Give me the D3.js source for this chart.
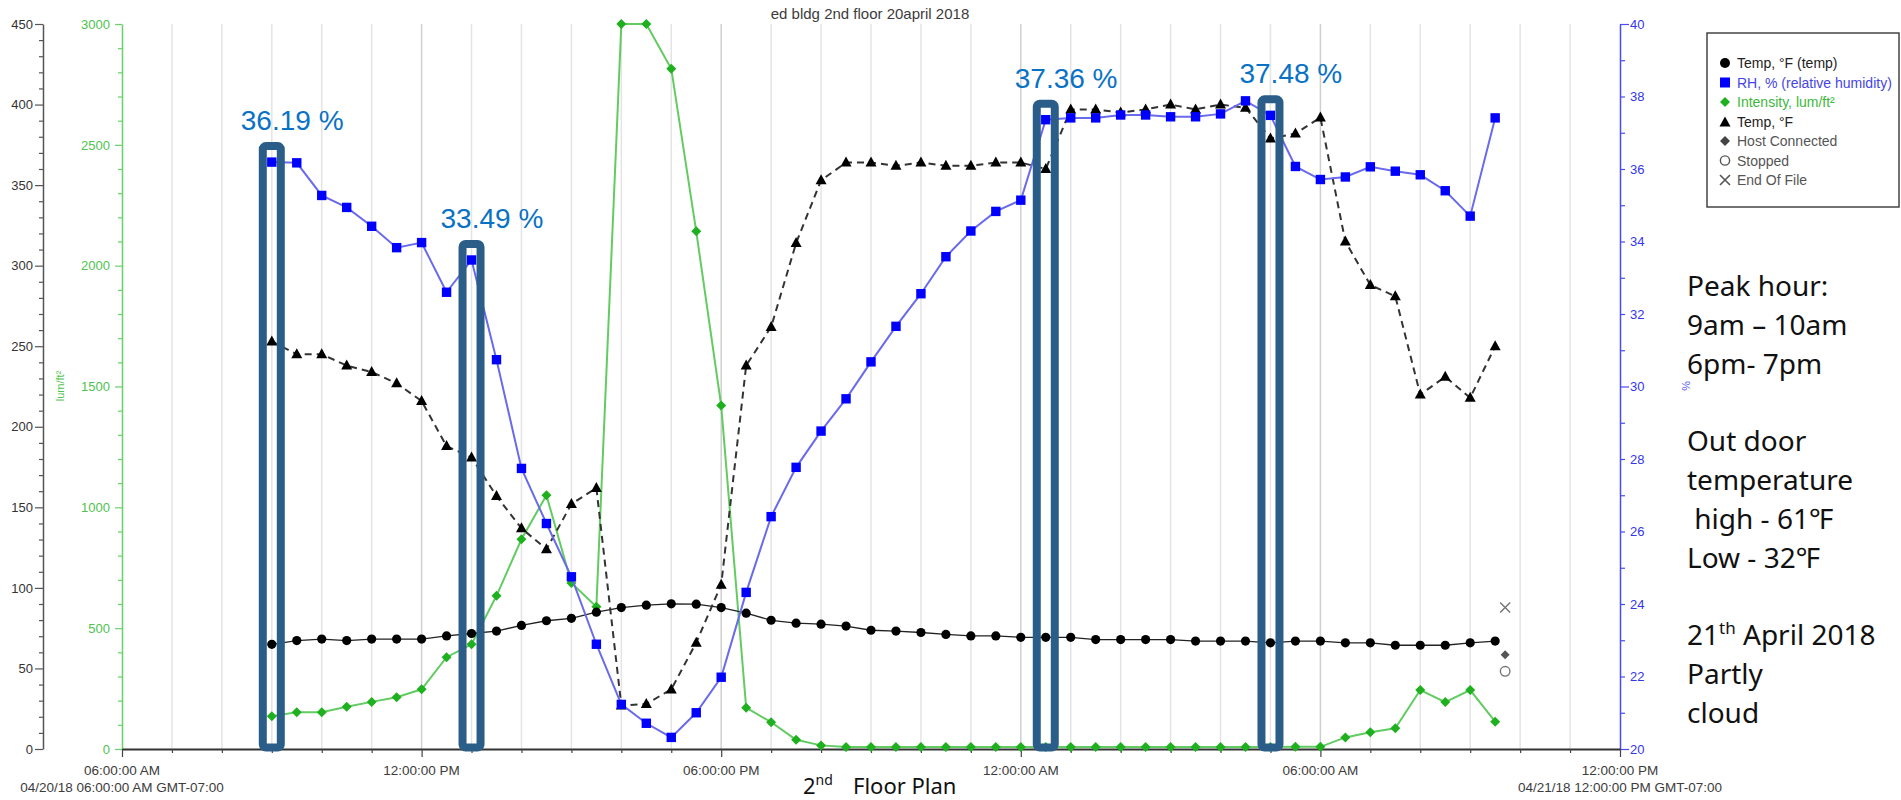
<!DOCTYPE html>
<html>
<head>
<meta charset="utf-8">
<script src="https://cdn.jsdelivr.net/npm/d3@7"></script>
<style>
  body { margin: 0; background: #fff; }
  svg { display: block; }
</style>
</head>
<body>
<svg id="chart" width="1901" height="800"></svg>
<script>
// ---- Logger readings, 30-minute samples ----
const sampleTimes = [
  "04/20/2018 09:00", "04/20/2018 09:30", "04/20/2018 10:00", "04/20/2018 10:30",
  "04/20/2018 11:00", "04/20/2018 11:30", "04/20/2018 12:00", "04/20/2018 12:30",
  "04/20/2018 13:00", "04/20/2018 13:30", "04/20/2018 14:00", "04/20/2018 14:30",
  "04/20/2018 15:00", "04/20/2018 15:30", "04/20/2018 16:00", "04/20/2018 16:30",
  "04/20/2018 17:00", "04/20/2018 17:30", "04/20/2018 18:00", "04/20/2018 18:30",
  "04/20/2018 19:00", "04/20/2018 19:30", "04/20/2018 20:00", "04/20/2018 20:30",
  "04/20/2018 21:00", "04/20/2018 21:30", "04/20/2018 22:00", "04/20/2018 22:30",
  "04/20/2018 23:00", "04/20/2018 23:30", "04/21/2018 00:00", "04/21/2018 00:30",
  "04/21/2018 01:00", "04/21/2018 01:30", "04/21/2018 02:00", "04/21/2018 02:30",
  "04/21/2018 03:00", "04/21/2018 03:30", "04/21/2018 04:00", "04/21/2018 04:30",
  "04/21/2018 05:00", "04/21/2018 05:30", "04/21/2018 06:00", "04/21/2018 06:30",
  "04/21/2018 07:00", "04/21/2018 07:30", "04/21/2018 08:00", "04/21/2018 08:30",
  "04/21/2018 09:00", "04/21/2018 09:30"
];

// Temp, °F (temp) — left axis
const tempCircle = [
  65.0, 67.3, 68.2, 67.3, 68.2, 68.2, 68.2, 70.2, 71.7, 73.2,
  76.7, 79.6, 81.1, 84.9, 87.8, 89.3, 90.1, 89.9, 87.8, 84.3,
  79.9, 78.1, 77.5, 76.3, 73.7, 73.2, 72.3, 71.1, 70.2, 70.2,
  69.3, 69.3, 69.3, 67.9, 67.9, 67.9, 67.9, 67.0, 67.0, 67.0,
  65.9, 67.0, 67.0, 65.9, 65.9, 64.4, 64.4, 64.4, 65.9, 67.0
];

// RH, % (relative humidity) — right axis
const rhPercent = [
  36.19, 36.17, 35.27, 34.94, 34.42, 33.83, 33.97, 32.60, 33.49, 30.74,
  27.74, 26.22, 24.75, 22.89, 21.23, 20.71, 20.32, 21.00, 21.98, 24.32,
  26.41, 27.77, 28.77, 29.66, 30.68, 31.66, 32.56, 33.58, 34.29, 34.83,
  35.14, 37.36, 37.41, 37.41, 37.49, 37.49, 37.44, 37.44, 37.52, 37.88,
  37.48, 36.07, 35.71, 35.78, 36.06, 35.94, 35.84, 35.40, 34.70, 37.41
];

// Intensity, lum/ft² — green axis
const intensity = [
  136, 152, 152, 175, 195, 214, 247, 380, 433, 634,
  868, 1050, 687, 589, 3000, 3000, 2815, 2142, 1421, 171,
  111, 38, 15, 8, 8, 8, 8, 8, 8, 8,
  8, 8, 8, 8, 8, 8, 8, 8, 8, 8,
  8, 9, 9, 48, 69, 86, 244, 194, 244, 113
];

// Temp, °F (second channel, dashed) — left axis scale
const tempTriangle = [
  253, 245, 245, 238, 234, 227, 216, 188, 181, 157,
  137, 124, 152, 162, 27, 28, 37, 66, 102, 238,
  262, 314, 353, 364, 364, 362, 364, 362, 362, 364,
  364, 360, 397, 397, 395, 397, 400, 397, 400, 398,
  379, 382, 392, 315, 288, 281, 220, 231, 218, 250
];

// Logger events
const eventNames  = ["End Of File", "Host Connected", "Stopped"];
const eventTimes  = ["04/21/2018 09:42", "04/21/2018 09:42", "04/21/2018 09:42"];
const eventValues = [87.8, 58.5, 48.2];

// RH readings called out with a frame
const highlightIndex = [0, 8, 31, 40];

// Axis extents and labels
const timeDomain = ["04/20/2018 06:00", "04/21/2018 12:00"];
const timeLabelTimes = ["04/20/2018 06:00", "04/20/2018 12:00", "04/20/2018 18:00",
                        "04/21/2018 00:00", "04/21/2018 06:00", "04/21/2018 12:00"];
const dateCaptions = ["04/20/18 06:00:00 AM GMT-07:00", "04/21/18 12:00:00 PM GMT-07:00"];
const tempDomain = [0, 450];
const lumDomain = [0, 3000];
const rhDomain = [20, 40];

const legendLabels = ["Temp, °F (temp)", "RH, % (relative humidity)", "Intensity, lum/ft²",
                      "Temp, °F", "Host Connected", "Stopped", "End Of File"];

const sideNotes = ["Peak hour:", "9am – 10am", "6pm- 7pm", "", "Out door", "temperature",
                   " high - 61℉", "Low - 32℉", ""];
const weatherNotes = ["Partly", "cloud"];

// ---- Layout ----
const plot = { left: 122, right: 1620, top: 24, bottom: 749 };
const chartFont = "'Liberation Sans', Arial, sans-serif";
const noteFont = "'Noto Sans', 'Open Sans', sans-serif";

const parseTime = d3.timeParse("%m/%d/%Y %H:%M");
const times = sampleTimes.map(parseTime);

const svg = d3.select("#chart");

const x = d3.scaleTime().domain(timeDomain.map(parseTime)).range([plot.left, plot.right]);
const yTemp = d3.scaleLinear().domain(tempDomain).range([plot.bottom, plot.top]);
const yLum = d3.scaleLinear().domain(lumDomain).range([plot.bottom, plot.top]);
const yRH = d3.scaleLinear().domain(rhDomain).range([plot.bottom, plot.top]);

// ---- Hourly grid ----
const hourTicks = x.ticks(d3.timeHour.every(1));
const isSixHour = d => d.getHours() % 6 === 0;
svg.append("g").selectAll("line")
  .data(hourTicks.filter(d => x(d) > plot.left + 1 && x(d) < plot.right - 1))
  .join("line")
  .attr("x1", d => x(d)).attr("x2", d => x(d))
  .attr("y1", plot.top).attr("y2", plot.bottom)
  .attr("stroke", d => isSixHour(d) ? "#cfcfcf" : "#e4e4e4")
  .attr("stroke-width", 1.5);

// ---- Title ----
svg.append("text")
  .attr("x", 870).attr("y", 19)
  .attr("text-anchor", "middle")
  .attr("font-family", chartFont).attr("font-size", 15)
  .attr("fill", "#3c3c3c")
  .text("ed bldg 2nd floor 20april 2018");

// ---- Left temperature axis ----
const gTemp = svg.append("g")
  .attr("transform", `translate(43,0)`)
  .call(d3.axisLeft(yTemp)
    .tickValues(d3.range(tempDomain[0], tempDomain[1] + 1, 10))
    .tickSize(4).tickSizeOuter(0).tickPadding(6)
    .tickFormat(d => d % 50 === 0 ? d : ""));
gTemp.select(".domain").attr("stroke", "#555").attr("stroke-width", 1.5);
gTemp.selectAll(".tick line").attr("stroke", "#555").attr("stroke-width", 1.2)
  .attr("x2", d => d % 50 === 0 ? -8 : -4);
gTemp.selectAll(".tick text").attr("font-family", chartFont).attr("font-size", 13)
  .attr("fill", "#333").attr("x", -10);

// ---- Green intensity axis ----
const gLum = svg.append("g")
  .attr("transform", `translate(${plot.left},0)`)
  .call(d3.axisLeft(yLum)
    .tickValues(d3.range(lumDomain[0], lumDomain[1] + 1, 100))
    .tickSize(4).tickSizeOuter(0)
    .tickFormat(d => d % 500 === 0 ? d : ""));
gLum.select(".domain").attr("stroke", "#6ad06a").attr("stroke-width", 1.5);
gLum.selectAll(".tick line").attr("stroke", "#6ad06a").attr("stroke-width", 1.2)
  .attr("x2", d => d % 500 === 0 ? -7 : -4);
gLum.selectAll(".tick text").attr("font-family", chartFont).attr("font-size", 13)
  .attr("fill", "#4fc24f").attr("x", -12);

svg.append("text")
  .attr("transform", "translate(64,386) rotate(-90)")
  .attr("text-anchor", "middle")
  .attr("font-family", chartFont).attr("font-size", 11)
  .attr("fill", "#4fc24f")
  .text("lum/ft²");

// ---- Right RH axis ----
const gRH = svg.append("g")
  .attr("transform", `translate(${plot.right},0)`)
  .call(d3.axisRight(yRH)
    .tickValues(d3.range(rhDomain[0], rhDomain[1] + 1, 1))
    .tickSize(5).tickSizeOuter(0)
    .tickFormat(d => d % 2 === 0 ? d : ""));
gRH.select(".domain").attr("stroke", "#4a4af5").attr("stroke-width", 1.5);
gRH.selectAll(".tick line").attr("stroke", "#4a4af5").attr("stroke-width", 1.2)
  .attr("x2", d => d % 10 === 0 ? 9 : 5);
gRH.selectAll(".tick text").attr("font-family", chartFont).attr("font-size", 13)
  .attr("fill", "#3535ee").attr("x", 10);

svg.append("text")
  .attr("transform", "translate(1682,386) rotate(90)")
  .attr("text-anchor", "middle")
  .attr("font-family", chartFont).attr("font-size", 11)
  .attr("fill", "#5555ee")
  .text("%");

// ---- Time axis ----
const gX = svg.append("g")
  .attr("transform", `translate(0,${plot.bottom})`)
  .call(d3.axisBottom(x).tickValues(hourTicks).tickSize(4).tickSizeOuter(0).tickFormat(""));
gX.select(".domain").attr("stroke", "#333").attr("stroke-width", 2);
gX.selectAll(".tick line").attr("stroke", "#444").attr("stroke-width", 1.2)
  .attr("y2", d => isSixHour(d) ? 8 : 4);

const fmtClock = d3.timeFormat("%I:%M:%S %p");
svg.append("g").selectAll("text")
  .data(timeLabelTimes.map(parseTime))
  .join("text")
  .attr("x", d => x(d)).attr("y", 775)
  .attr("text-anchor", "middle")
  .attr("font-family", chartFont).attr("font-size", 13.5)
  .attr("fill", "#3c3c3c")
  .text(d => fmtClock(d));

svg.append("g").selectAll("text")
  .data(dateCaptions)
  .join("text")
  .attr("x", (d, i) => i === 0 ? x(parseTime(timeDomain[0])) : x(parseTime(timeDomain[1])))
  .attr("y", 792)
  .attr("text-anchor", "middle")
  .attr("font-family", chartFont).attr("font-size", 13.5)
  .attr("fill", "#3c3c3c")
  .text(d => d);

// ---- Series ----
const diamondPath = r => `M0,${-r}L${r},0L0,${r}L${-r},0Z`;
const trianglePath = "M0,-6L5.5,4L-5.5,4Z";

// Intensity (green)
svg.append("path")
  .datum(intensity)
  .attr("fill", "none").attr("stroke", "#62cc62").attr("stroke-width", 2)
  .attr("d", d3.line().x((d, i) => x(times[i])).y(d => yLum(d)));
svg.append("g").selectAll("path")
  .data(intensity)
  .join("path")
  .attr("transform", (d, i) => `translate(${x(times[i])},${yLum(d)})`)
  .attr("d", diamondPath(5))
  .attr("fill", "#1fb01f");

// Temp (black circles)
svg.append("path")
  .datum(tempCircle)
  .attr("fill", "none").attr("stroke", "#222").attr("stroke-width", 1.3)
  .attr("d", d3.line().x((d, i) => x(times[i])).y(d => yTemp(d)));
svg.append("g").selectAll("circle")
  .data(tempCircle)
  .join("circle")
  .attr("cx", (d, i) => x(times[i])).attr("cy", d => yTemp(d))
  .attr("r", 4.6)
  .attr("fill", "#000");

// Temp (dashed, triangles)
svg.append("path")
  .datum(tempTriangle)
  .attr("fill", "none").attr("stroke", "#333").attr("stroke-width", 2)
  .attr("stroke-dasharray", "7,5")
  .attr("d", d3.line().x((d, i) => x(times[i])).y(d => yTemp(d)));
svg.append("g").selectAll("path")
  .data(tempTriangle)
  .join("path")
  .attr("transform", (d, i) => `translate(${x(times[i])},${yTemp(d)})`)
  .attr("d", trianglePath)
  .attr("fill", "#000");

// RH (blue squares)
svg.append("path")
  .datum(rhPercent)
  .attr("fill", "none").attr("stroke", "#6a6aec").attr("stroke-width", 2)
  .attr("d", d3.line().x((d, i) => x(times[i])).y(d => yRH(d)));
svg.append("g").selectAll("rect")
  .data(rhPercent)
  .join("rect")
  .attr("x", (d, i) => x(times[i]) - 4.7).attr("y", d => yRH(d) - 4.7)
  .attr("width", 9.4).attr("height", 9.4)
  .attr("fill", "#0000ff");

// ---- Logger events ----
const gEvt = svg.append("g");
eventNames.forEach((name, k) => {
  const ex = x(parseTime(eventTimes[k]));
  const ey = yTemp(eventValues[k]);
  if (name === "End Of File") {
    gEvt.append("path")
      .attr("d", `M${ex - 5},${ey - 5}L${ex + 5},${ey + 5}M${ex + 5},${ey - 5}L${ex - 5},${ey + 5}`)
      .attr("stroke", "#777").attr("stroke-width", 1.5);
  } else if (name === "Host Connected") {
    gEvt.append("path")
      .attr("transform", `translate(${ex},${ey})`)
      .attr("d", diamondPath(4.5))
      .attr("fill", "#555");
  } else {
    gEvt.append("circle")
      .attr("cx", ex).attr("cy", ey).attr("r", 4.8)
      .attr("fill", "none").attr("stroke", "#777").attr("stroke-width", 1.4);
  }
});

// ---- Highlight frames and value callouts ----
const gHi = svg.append("g");
highlightIndex.forEach(i => {
  const cx = x(times[i]);
  const cy = yRH(rhPercent[i]);
  const top = cy - 16;
  gHi.append("rect")
    .attr("x", cx - 9).attr("y", top)
    .attr("width", 18).attr("height", plot.bottom - 1.5 - top)
    .attr("rx", 3).attr("ry", 3)
    .attr("fill", "none").attr("stroke", "#2b5d89").attr("stroke-width", 8);
  gHi.append("text")
    .attr("x", cx - 31).attr("y", top - 16)
    .attr("font-family", chartFont).attr("font-size", 28)
    .attr("fill", "#0a72c4")
    .text(d3.format(".2f")(rhPercent[i]) + " %");
});

// ---- Legend ----
const legend = svg.append("g");
legend.append("rect")
  .attr("x", 1707).attr("y", 33).attr("width", 192).attr("height", 174)
  .attr("fill", "#fff").attr("stroke", "#444").attr("stroke-width", 1.5);
const legendColors = ["#222", "#4545e6", "#3cb83c", "#222", "#555", "#555", "#555"];
legendLabels.forEach((label, k) => {
  const ly = 63 + k * 19.5;
  const sx = 1725;
  if (k === 0) legend.append("circle").attr("cx", sx).attr("cy", ly).attr("r", 5).attr("fill", "#000");
  if (k === 1) legend.append("rect").attr("x", sx - 5).attr("y", ly - 5).attr("width", 10).attr("height", 10).attr("fill", "#0000ff");
  if (k === 2) legend.append("path").attr("transform", `translate(${sx},${ly})`).attr("d", diamondPath(5)).attr("fill", "#1fb01f");
  if (k === 3) legend.append("path").attr("transform", `translate(${sx},${ly + 1})`).attr("d", trianglePath).attr("fill", "#000");
  if (k === 4) legend.append("path").attr("transform", `translate(${sx},${ly})`).attr("d", diamondPath(5)).attr("fill", "#444");
  if (k === 5) legend.append("circle").attr("cx", sx).attr("cy", ly).attr("r", 4.6).attr("fill", "none").attr("stroke", "#555").attr("stroke-width", 1.4);
  if (k === 6) legend.append("path")
    .attr("d", `M${sx - 5},${ly - 5}L${sx + 5},${ly + 5}M${sx + 5},${ly - 5}L${sx - 5},${ly + 5}`)
    .attr("stroke", "#555").attr("stroke-width", 1.6);
  legend.append("text")
    .attr("x", 1737).attr("y", ly + 5)
    .attr("font-family", chartFont).attr("font-size", 14)
    .attr("fill", legendColors[k])
    .text(label);
});

// ---- Side notes ----
const notes = svg.append("g")
  .attr("font-family", noteFont).attr("font-size", 28).attr("fill", "#111");
sideNotes.forEach((line, k) => {
  if (!line) return;
  notes.append("text")
    .attr("x", 1687).attr("y", 296 + k * 38.8)
    .attr("xml:space", "preserve")
    .text(line);
});
const dateLine = notes.append("text").attr("x", 1687).attr("y", 296 + 9 * 38.8);
dateLine.append("tspan").text("21");
dateLine.append("tspan").attr("font-size", 17).attr("dy", -11).text("th");
dateLine.append("tspan").attr("dy", 11).text(" April 2018");
weatherNotes.forEach((line, k) => {
  notes.append("text")
    .attr("x", 1687).attr("y", 296 + (10 + k) * 38.8)
    .text(line);
});

// ---- Caption ----
const caption = svg.append("text")
  .attr("x", 803).attr("y", 794)
  .attr("font-family", noteFont).attr("font-size", 22).attr("fill", "#111");
caption.append("tspan").text("2");
caption.append("tspan").attr("font-size", 14).attr("dy", -9).text("nd");
caption.append("tspan").attr("x", 853).attr("dy", 9).text("Floor Plan");
</script>
</body>
</html>
